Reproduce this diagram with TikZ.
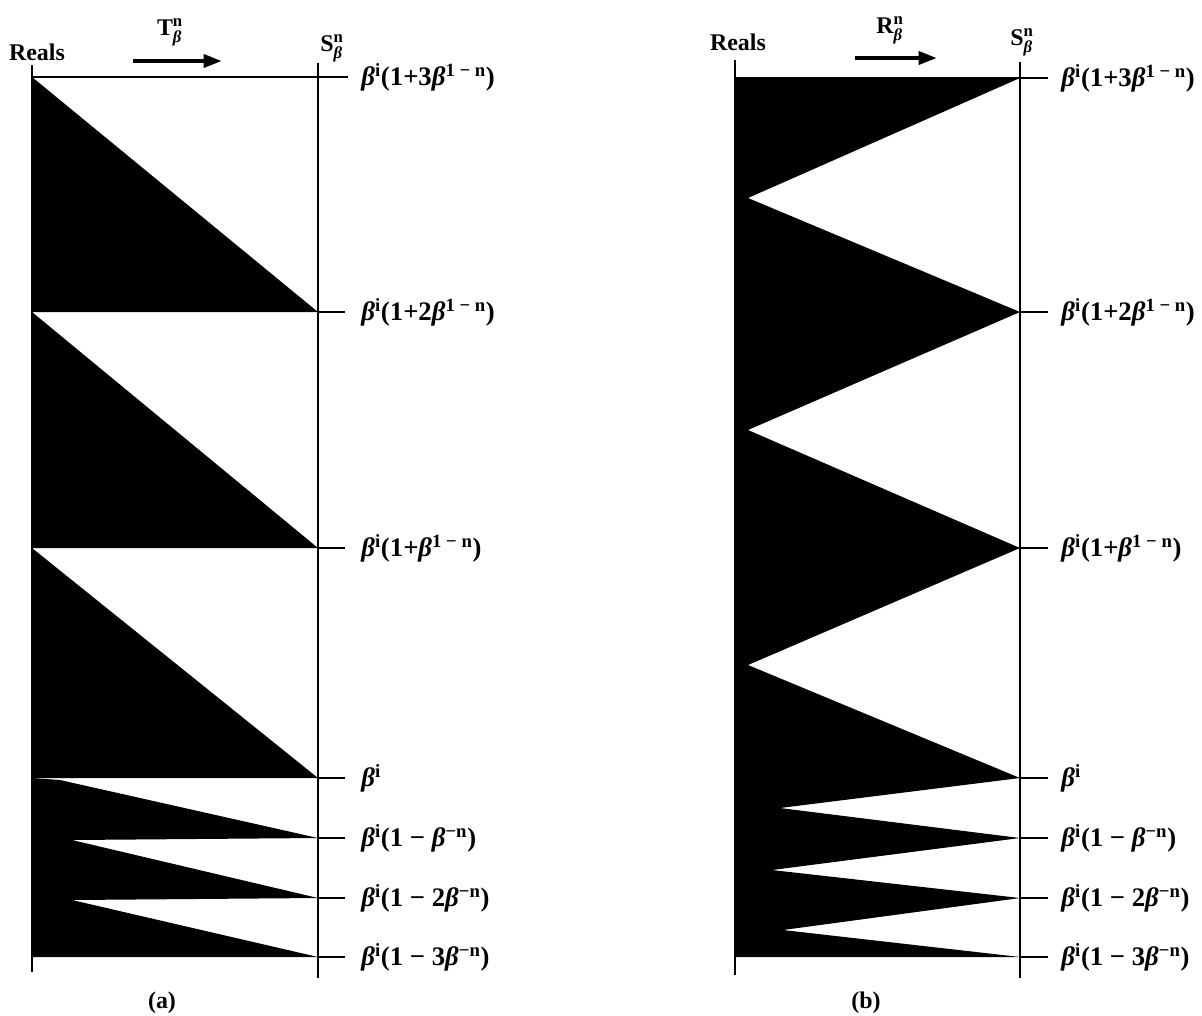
\documentclass[tikz,border=0pt]{standalone}
\usepackage{amsmath}
\usepackage{fontspec}
\setmainfont{Liberation Serif}
\usetikzlibrary{arrows.meta}
\newcommand{\bt}{\textit{β}}
\newcommand{\hmap}[1]{$\text{#1}^{\text{n}}_{\text{\itshape β}}$}

\begin{document}
\begin{tikzpicture}[x=0.025cm, y=-0.025cm, line width=2pt,
    lbl/.style={anchor=west, inner sep=0pt, font=\fontsize{19}{22}\selectfont\bfseries},
    hdr/.style={inner sep=0pt, font=\fontsize{17}{20}\selectfont\bfseries},
    maparrow/.style={line width=3pt, -{Triangle[length=13pt, width=9pt]}}]
    \useasboundingbox (0,0) rectangle (1202,1015);
    % (a)
    \foreach \ya/\yb in {77/312, 312/548, 548/778}
        \fill (32,\ya) -- (318,\yb) -- (32,\yb) -- cycle;
    \fill (32,778) -- (60,780) -- (318,838) -- (72,840) -- (318,898)
        -- (72,900) -- (318,957) -- (32,957) -- cycle;
    \draw (32,65) -- (32,972);
    \draw (318,63) -- (318,978);
    \draw (32,77) -- (348,77);
    \foreach \y in {312, 548, 778, 838, 898, 957}
        \draw (318,\y) -- (345,\y);
    \node[hdr] (realsA) at (37,52) {Reals};
    \node[hdr] (mapA) at (170,32) {\hmap{T}};
    \coordinate (arrA1) at (133,61);
    \coordinate (arrA2) at (222,61);
    \draw[maparrow] (arrA1) -- (arrA2);
    \node[hdr] (spaceA) at (332,48) {\hmap{S}};
    \foreach \y/\t/\n in {77/\bt\textsuperscript{i}(1+3\bt\textsuperscript{1 − n})/1,
            312/\bt\textsuperscript{i}(1+2\bt\textsuperscript{1 − n})/2,
            548/\bt\textsuperscript{i}(1+\bt\textsuperscript{1 − n})/3,
            778/\bt\textsuperscript{i}/4,
            838/\bt\textsuperscript{i}(1 − \bt\textsuperscript{−n})/5,
            898/\bt\textsuperscript{i}(1 − 2\bt\textsuperscript{−n})/6,
            957/\bt\textsuperscript{i}(1 − 3\bt\textsuperscript{−n})/7}
        \node[lbl] (a\n) at (360,\y) {\t};
    \node[hdr] (capA) at (162,1003) {(a)};
    % (b)
    \fill (735,78) -- (1020,78) -- (748,198) -- (1020,312) -- (748,430)
        -- (1020,548) -- (748,665) -- (1020,778) -- (780,808) -- (1020,838)
        -- (772,870) -- (1020,898) -- (783,930) -- (1020,957) -- (735,957) -- cycle;
    \draw (735,60) -- (735,975);
    \draw (1020,62) -- (1020,978);
    \draw (735,78) -- (1048,78);
    \foreach \y in {312, 548, 778, 838, 898, 957}
        \draw (1020,\y) -- (1048,\y);
    \node[hdr] (realsB) at (738,42) {Reals};
    \node[hdr] (mapB) at (890,30) {\hmap{R}};
    \coordinate (arrB1) at (855,58);
    \coordinate (arrB2) at (937,58);
    \draw[maparrow] (arrB1) -- (arrB2);
    \node[hdr] (spaceB) at (1022,42) {\hmap{S}};
    \foreach \y/\t/\n in {78/\bt\textsuperscript{i}(1+3\bt\textsuperscript{1 − n})/1,
            312/\bt\textsuperscript{i}(1+2\bt\textsuperscript{1 − n})/2,
            548/\bt\textsuperscript{i}(1+\bt\textsuperscript{1 − n})/3,
            778/\bt\textsuperscript{i}/4,
            838/\bt\textsuperscript{i}(1 − \bt\textsuperscript{−n})/5,
            898/\bt\textsuperscript{i}(1 − 2\bt\textsuperscript{−n})/6,
            957/\bt\textsuperscript{i}(1 − 3\bt\textsuperscript{−n})/7}
        \node[lbl] (b\n) at (1060,\y) {\t};
    \node[hdr] (capB) at (866,1003) {(b)};
\end{tikzpicture}
\end{document}
